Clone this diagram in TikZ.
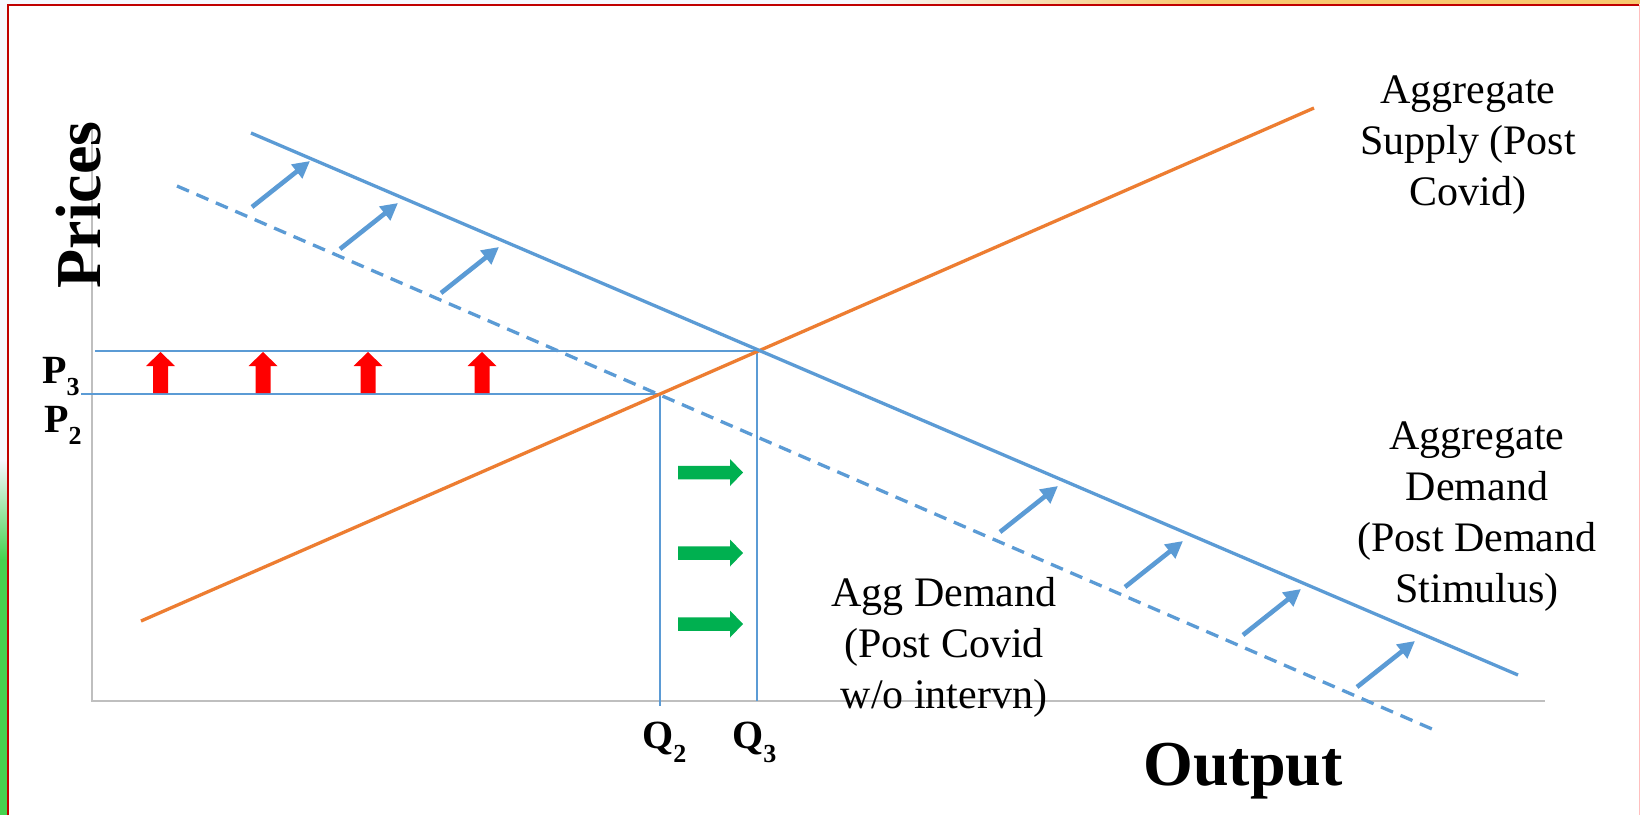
\documentclass[tikz,border=0pt]{standalone}
\usepackage{fontspec}
\setmainfont{Liberation Serif}
\usetikzlibrary{arrows.meta}
\definecolor{ablue}{HTML}{5B9BD5}
\definecolor{aorange}{HTML}{ED7D31}
\definecolor{agreen}{HTML}{00B050}
\definecolor{ared}{HTML}{FF0000}
\definecolor{axisgray}{HTML}{BFBFBF}
\definecolor{framered}{HTML}{C00000}
\definecolor{slidegreen}{HTML}{46D24F}
\definecolor{slideorange}{HTML}{F8C870}
\definecolor{slidewhite}{HTML}{F6F8FE}
\newcommand\lowsub[2][12pt]{\raisebox{-#1}{\fontsize{26}{26}\selectfont #2}}
\begin{document}
\begin{tikzpicture}[x=1pt,y=-1pt,
  curve/.style={line width=3.3pt},
  demand/.style={curve,ablue},
  dashdemand/.style={demand,dash pattern=on 13pt off 8.16pt},
  supply/.style={curve,aorange},
  guide/.style={ablue,line width=1.5pt},
  axisline/.style={axisgray,line width=2.2pt},
  shiftarrow/.style={ablue,line width=4.6pt,-{Triangle[length=17pt,width=17pt]}},
  redarrow/.style={fill=ared},
  greenarrow/.style={fill=agreen},
  lbl/.style={font=\fontsize{42}{51}\selectfont,align=center,inner sep=0pt},
  tick/.style={font=\fontsize{40}{40}\selectfont\bfseries,inner sep=0pt,anchor=base west},
  axislabel/.style={font=\fontsize{64}{64}\selectfont\bfseries,inner sep=0pt,anchor=base}
]
\useasboundingbox (0,0) rectangle (1640,815);
\fill[white] (0,0) rectangle (1640,815);
% slide decoration
\fill[slidewhite] (0,0) rectangle (850,4);
\shade[left color=slidewhite,right color=slideorange] (850,0) rectangle (1200,4);
\fill[slideorange] (1200,0) rectangle (1640,4);
\fill[slidewhite] (0,4) rectangle (7,460);
\shade[top color=slidewhite,bottom color=slidegreen] (0,460) rectangle (7,560);
\fill[slidegreen] (0,560) rectangle (7,815);
\draw[framered,line width=2pt] (7.5,815) -- (7.5,5) -- (1639,5);
\draw[red!25,line width=1pt] (1639.5,5) -- (1639.5,815);

% coordinates
\coordinate (AS1) at (141,621); \coordinate (AS2) at (1314,108);
\coordinate (ADn1) at (251,133); \coordinate (ADn2) at (1518,675);
\coordinate (ADo1) at (177,186); \coordinate (ADo2) at (1432,729);
\coordinate (E2) at (660,394); \coordinate (E3) at (757,351);
\coordinate (O) at (92,701); \coordinate (Ytop) at (92,128); \coordinate (Xend) at (1545,701);
\coordinate (P3s) at (95,351); \coordinate (P2s) at (81,394);
\coordinate (Q2e) at (660,706); \coordinate (Q3e) at (757,701);

% axes
\draw[axisline] (Ytop) -- (O) -- (Xend);
% guides
\draw[guide] (P3s) -- (E3);
\draw[guide] (P2s) -- (E2);
\draw[guide] (E2) -- (Q2e);
\draw[guide] (E3) -- (Q3e);
% curves
\draw[supply] (AS1) -- (AS2);
\draw[demand] (ADn1) -- (ADn2);
\draw[dashdemand] (ADo1) -- (ADo2);

% shift arrows
\foreach \x/\y [count=\i] in {252/207, 340/249, 441/293, 1000/532, 1125/587, 1243/635, 1357/687} {
  \coordinate (st\i) at (\x,\y);
  \coordinate (sh\i) at ({\x+58},{\y-46});
  \draw[shiftarrow] (st\i) -- (sh\i);
}
% red price arrows
\foreach \c in {160.5,263,368,482} {
  \fill[redarrow] ({\c-7.5},393) -- ({\c-7.5},366) -- ({\c-14.5},366) -- (\c,352)
    -- ({\c+14.5},366) -- ({\c+7.5},366) -- ({\c+7.5},393) -- cycle;
}
% green output arrows
\foreach \m in {472.5,553,624} {
  \fill[greenarrow] (678,{\m-6.75}) -- (730,{\m-6.75}) -- (730,{\m-13.5}) -- (743,\m)
    -- (730,{\m+13.5}) -- (730,{\m+6.75}) -- (678,{\m+6.75}) -- cycle;
}

% labels
\node[axislabel,rotate=90] (prices) at (100,205) {Prices};
\node[axislabel] (output) at (1243,785) {Output};
\node[tick] (p3) at (42,383) {P\lowsub{3}};
\node[tick] (p2) at (44,432) {P\lowsub{2}};
\node[tick] (q2) at (642,748) {Q\lowsub[14pt]{2}};
\node[tick] (q3) at (732,748) {Q\lowsub[14pt]{3}};
\node[lbl] (asl) at (1468,145) {Aggregate\\Supply (Post\\Covid)};
\node[lbl] (adn) at (1477,517) {Aggregate\\Demand\\(Post Demand\\Stimulus)};
\node[lbl] (ado) at (944,647) {Agg Demand\\(Post Covid\\w/o intervn)};
\end{tikzpicture}
\end{document}
